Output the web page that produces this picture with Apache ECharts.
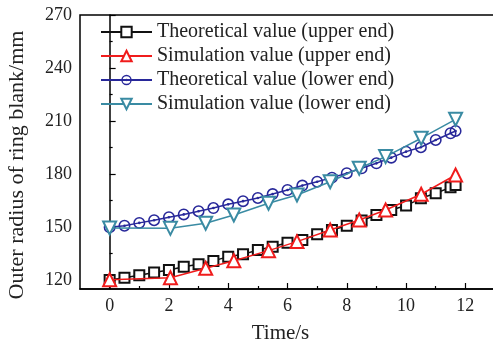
<!DOCTYPE html>
<html><head><meta charset="utf-8">
<script src="https://cdn.jsdelivr.net/npm/echarts@6/dist/echarts.min.js"></script>
<style>html,body{margin:0;padding:0;background:#fff}#c{width:493px;height:343px}</style>
</head><body><div id="c"></div>
<script>
// ---- data ----
const seriesNames = [
  'Theoretical value (upper end)',
  'Simulation value (upper end)',
  'Theoretical value (lower end)',
  'Simulation value (lower end)'
];
const theoTime = [0,0.5,1,1.5,2,2.5,3,3.5,4,4.5,5,5.5,6,6.5,7,7.5,8,8.5,9,9.5,10,10.5,11,11.5,11.67];
const theoUpper = [120.1,121.4,122.8,124.3,125.8,127.6,129.0,130.9,133.3,134.6,137.1,138.9,141.2,142.7,146.0,148.4,150.8,153.7,156.9,159.7,162.2,166.3,169.2,172.5,173.8];
const theoLower = [149.9,150.8,152.4,153.9,155.6,157.2,159.0,160.8,162.9,164.7,166.5,168.7,171.0,173.5,175.7,178.0,180.5,183.3,186.1,189.3,192.7,195.2,199.3,203.1,204.4];
const simTime = [0,2.05,3.24,4.19,5.36,6.32,7.44,8.42,9.31,10.51,11.67];
const simUpper = [120.2,121.4,126.7,131.0,136.7,141.8,148.4,154.0,159.7,168.6,179.5];
const simLower = [149.5,149.3,152.2,156.9,163.5,168.2,175.7,183.3,189.9,200.3,211.0];
const xTicks = [0,2,4,6,8,10,12];
const xMinor = [1,3,5,7,9,11];
const yTicks = [120,150,180,210,240,270];
const yMinor = [135,165,195,225,255];
const colors = ['#111111','#f01c1c','#28289a','#3a8ba3'];

const pair = (t, v) => t.map((x, i) => [x, v[i]]);
const FONT = "'Liberation Serif','Times New Roman',serif";
const ringDot = 'path://M0,-10A10,10,0,1,1,0,10A10,10,0,1,1,0,-10ZM0,-7.4A7.4,7.4,0,1,0,0,7.4A7.4,7.4,0,1,0,0,-7.4ZM0,-2.2A2.2,2.2,0,1,1,0,2.2A2.2,2.2,0,1,1,0,-2.2Z';

const chart = echarts.init(document.getElementById('c'), null, {renderer: 'canvas'});
const grid = {left: 80, top: 15, width: 415, height: 274, show: true, borderColor: '#000', borderWidth: 1.5,
  backgroundColor: 'transparent', containLabel: false, outerBoundsMode: 'none'};
const labelStyle = {fontFamily: FONT, fontSize: 18, color: '#222'};

chart.setOption({
  animation: false,
  backgroundColor: '#fff',
  grid: grid,
  legend: {
    orient: 'vertical', left: 100, top: 22, padding: 0,
    itemWidth: 51, itemHeight: 13, itemGap: 4,
    textStyle: {fontFamily: FONT, fontSize: 20, color: '#222', lineHeight: 20},
    data: seriesNames
  },
  xAxis: [{
    type: 'value', min: -1, max: 13,
    axisLine: {lineStyle: {color: '#000', width: 1.5}},
    axisTick: {inside: true, length: 6, lineStyle: {color: '#000', width: 1.2}, customValues: xTicks},
    axisLabel: Object.assign({margin: 8, customValues: xTicks}, labelStyle),
    splitLine: {show: false},
    name: 'Time/s', nameLocation: 'middle', nameGap: 34,
    nameTextStyle: {fontFamily: FONT, fontSize: 21, color: '#222', padding: [0, 14, 0, 0]}
  }, {
    type: 'value', min: -1, max: 13, position: 'bottom',
    axisLine: {show: false},
    axisTick: {inside: true, length: 3, lineStyle: {color: '#000', width: 1.2}, customValues: xMinor},
    axisLabel: {show: false}, splitLine: {show: false}
  }],
  yAxis: [{
    type: 'value', min: 115, max: 270,
    axisLine: {show: true, lineStyle: {color: '#000', width: 1.5}},
    axisTick: {show: true, inside: true, length: 6, lineStyle: {color: '#000', width: 1.2}, customValues: yTicks},
    axisLabel: Object.assign({margin: 8, customValues: yTicks}, labelStyle),
    splitLine: {show: false},
    name: 'Outer radius of ring blank/mm', nameLocation: 'middle', nameGap: 52,
    nameTextStyle: {fontFamily: FONT, fontSize: 22, color: '#222', padding: [0, 26, 0, 0]}
  }, {
    type: 'value', min: 115, max: 270, position: 'left',
    axisLine: {show: false},
    axisTick: {show: true, inside: true, length: 3, lineStyle: {color: '#000', width: 1.2}, customValues: yMinor},
    axisLabel: {show: false}, splitLine: {show: false}
  }],
  series: [
    {name: seriesNames[0], type: 'line', data: pair(theoTime, theoUpper), symbol: 'emptyRect', symbolSize: 10,
     color: colors[0], lineStyle: {width: 1.5}, itemStyle: {borderWidth: 1.6}, z: 2},
    {name: seriesNames[1], type: 'line', data: pair(simTime, simUpper), symbol: 'emptyTriangle', symbolSize: 13,
     color: colors[1], lineStyle: {width: 1.5}, itemStyle: {borderWidth: 1.6}, z: 3},
    {name: seriesNames[2], type: 'line', data: pair(theoTime, theoLower), symbol: ringDot, symbolSize: 12,
     color: colors[2], lineStyle: {width: 1.5}, z: 2},
    {name: seriesNames[3], type: 'line', data: pair(simTime, simLower), symbol: 'emptyTriangle', symbolRotate: 180, symbolSize: 13,
     color: colors[3], lineStyle: {width: 1.5}, itemStyle: {borderWidth: 1.6}, z: 3}
  ]
});
</script></body></html>
